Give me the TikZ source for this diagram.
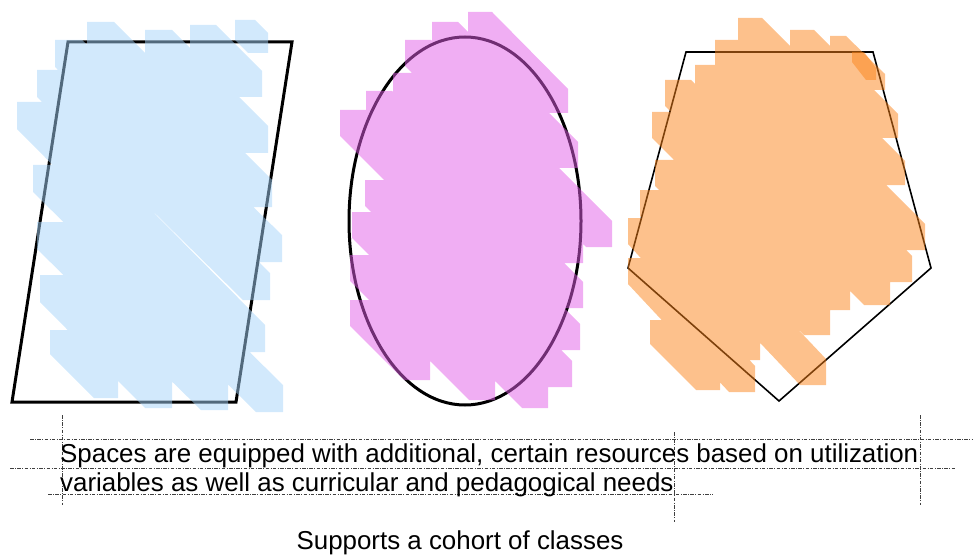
\documentclass[tikz,border=0pt]{standalone}
\usepackage{fontspec}
\setmainfont{Liberation Sans}
\usetikzlibrary{shapes.geometric}
\definecolor{hbluec}{RGB}{165,211,249}
\definecolor{hpinkc}{RGB}{225,93,231}
\definecolor{horangec}{RGB}{251,131,25}
\tikzset{
  outlinethick/.style={draw=black, line width=3pt, line join=miter},
  outlinethin/.style={draw=black, line width=1.6pt, line join=miter},
  hatchblue/.style={fill=hbluec, fill opacity=0.5},
  hatchpink/.style={fill=hpinkc, fill opacity=0.5},
  hatchorange/.style={fill=horangec, fill opacity=0.5},
  guide/.style={draw=black!75, line width=0.7pt, dash pattern=on 3.5pt off 1.5pt on 0.8pt off 1.5pt},
  txt/.style={inner sep=0pt, font=\fontsize{25.9}{30}\selectfont}
}
\begin{document}
\begin{tikzpicture}[x=1pt,y=-1pt]
\useasboundingbox (0,0) rectangle (973,556);
% ---------- outlines ----------
\coordinate (pa) at (68,42); \coordinate (pb) at (292,42);
\coordinate (pc) at (236,402); \coordinate (pd) at (12,402);
\draw[outlinethick] (pa) -- (pb) -- (pc) -- (pd) -- cycle;
\node[draw=black, line width=3pt, ellipse, minimum width=232pt, minimum height=368pt, inner sep=0pt] (ell) at (465,221) {};
\coordinate (qa) at (686,52); \coordinate (qb) at (873,52); \coordinate (qc) at (931,268);
\coordinate (qd) at (779,401); \coordinate (qe) at (628,268);
\draw[outlinethin] (qa) -- (qb) -- (qc) -- (qd) -- (qe) -- cycle;
% ---------- hachure fills ----------
\fill[hatchblue] foreach \a/\b/\c/\d/\w in {
 235/20/268/53/20, 190/25/262/97/26, 145/30/268/153/27, 87/22/272/207/27,
 55/40/282/262/27, 37/70/270/300/27, 17/102/265/352/27, 33/165/283/412/27,
 37/222/228/410/27, 40/275/172/408/27, 50/330/118/398/24}
 { (\a,\b) -- ({\a+\w},\b) -- (\c,{\d-\w}) -- (\c,\d) -- ({\c-\w},\d) -- (\a,{\b+\w}) -- cycle };
\fill[hatchpink] foreach \a/\b/\c/\d/\w in {
 468/12/568/113/24, 432/22/578/168/26, 405/40/612/247/26, 393/73/583/263/26,
 366/91/583/308/26, 340/110/580/350/26, 365/180/572/387/26, 352/212/548/408/26,
 350/255/495/400/26, 350/300/430/380/26}
 { (\a,\b) -- ({\a+\w},\b) -- (\c,{\d-\w}) -- (\c,\d) -- ({\c-\w},\d) -- (\a,{\b+\w}) -- cycle };
\fill[hatchorange] foreach \a/\b/\c/\d/\w in {
 738/18/905/185/24, 790/30/898/138/24, 830/36/885/90/16, 715/40/925/250/26,
 695/65/912/282/26, 665/80/890/305/26, 652/112/850/310/26, 655/160/830/335/26,
 640/190/826/385/26, 628/218/760/360/26, 628/258/755/392/26, 650/320/720/390/24}
 { (\a,\b) -- ({\a+\w},\b) -- (\c,{\d-\w}) -- (\c,\d) -- ({\c-\w},\d) -- (\a,{\b+\w}) -- cycle };
\fill[hatchorange] (852,52) -- (864,52) -- (876,68) -- (876,80) -- (866,80) -- (852,62) -- cycle;
% ---------- guide lines ----------
\draw[guide] (62,415) -- (62,505);
\draw[guide] (674,432) -- (674,522);
\draw[guide] (920,415) -- (920,505);
\draw[guide] (30,439) -- (973,439);
\draw[guide] (10,468) -- (956,468);
\draw[guide] (48,494) -- (713,494);
% ---------- text ----------
\node[txt, anchor=base west] (l1) at (60,462) {Spaces are equipped with additional, certain resources based on utilization};
\node[txt, anchor=base west] (l2) at (60,491) {variables as well as curricular and pedagogical needs};
\node[txt, anchor=base] (cap) at (460,549) {Supports a cohort of classes};
\end{tikzpicture}
\end{document}
